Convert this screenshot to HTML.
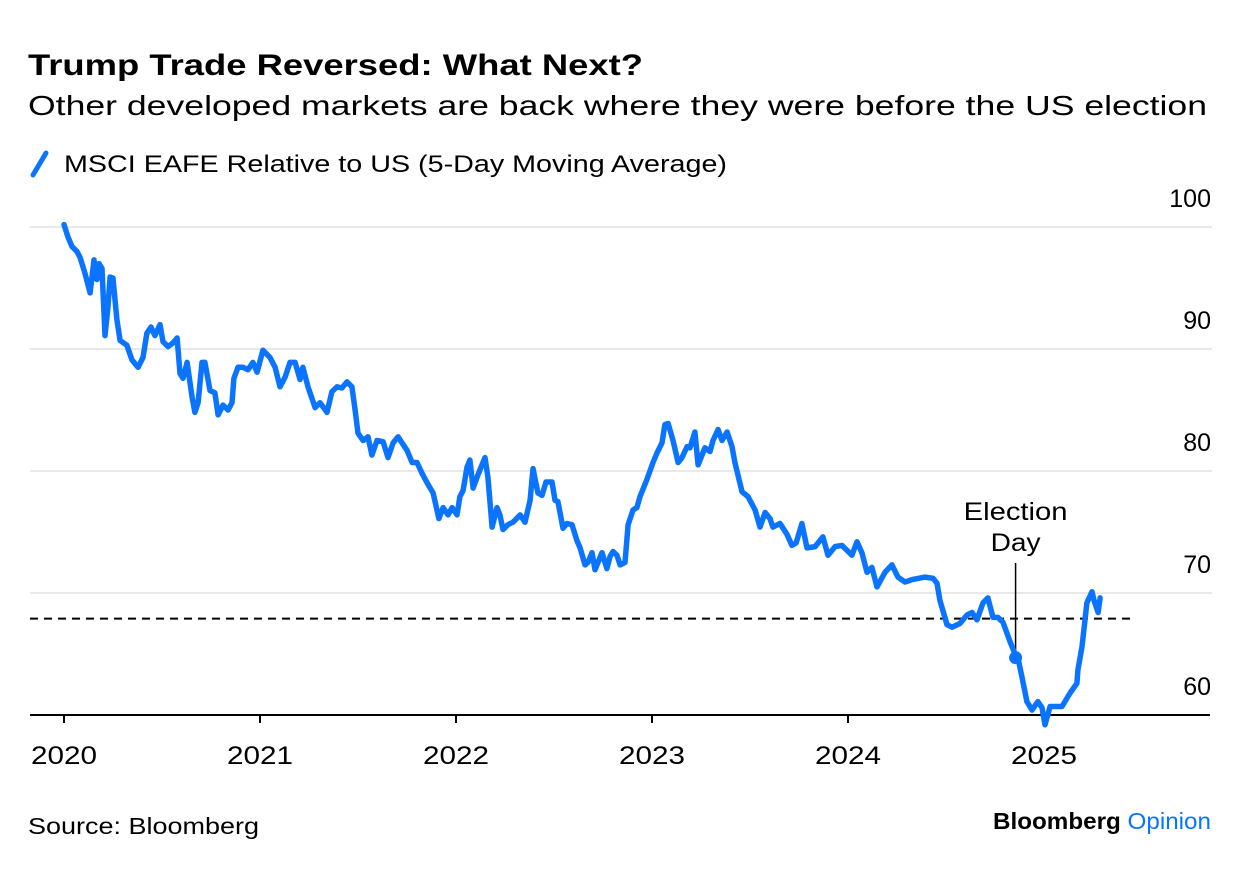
<!DOCTYPE html>
<html><head><meta charset="utf-8">
<style>
html,body{margin:0;padding:0;background:#fff;}
body{width:1240px;height:866px;overflow:hidden;font-family:"Liberation Sans",Arial,sans-serif;}
svg text{font-family:"Liberation Sans",Arial,sans-serif;}
</style></head>
<body>
<svg id="chart" width="1240" height="866" viewBox="0 0 1240 866" xmlns="http://www.w3.org/2000/svg">
<text x="28" y="75" font-size="30" font-weight="bold" fill="#000" textLength="615" lengthAdjust="spacingAndGlyphs">Trump Trade Reversed: What Next?</text>
<text x="28" y="115" font-size="28" fill="#000" textLength="1179" lengthAdjust="spacingAndGlyphs">Other developed markets are back where they were before the US election</text>
<g>
<line x1="33" y1="175" x2="46" y2="153" stroke="#0b74ff" stroke-width="5" stroke-linecap="round"/>
<text x="64" y="172" font-size="24" fill="#000" textLength="663" lengthAdjust="spacingAndGlyphs">MSCI EAFE Relative to US (5-Day Moving Average)</text>
</g>
<g id="grid"></g>
<g id="yticks"></g>
<g id="xaxis"></g>
<g id="series"></g>
<text x="28" y="834" font-size="23" fill="#000" textLength="231" lengthAdjust="spacingAndGlyphs">Source: Bloomberg</text>
<text x="993" y="829" font-size="23" font-weight="bold" fill="#000" textLength="218" lengthAdjust="spacingAndGlyphs">Bloomberg <tspan fill="#0b74ff" font-weight="normal">Opinion</tspan></text>
</svg>
<script>
const yTicks = [60, 70, 80, 90, 100];
const xTickYears = [2020, 2021, 2022, 2023, 2024, 2025];
const refLevel = 67.9;
const electionT = 4.855;
const electionValue = 64.7;
const dates = [0,.020,.041,.066,.082,.107,.133,.153,.168,.179,.194,.209,.224,.235,.250,.270,.286,.321,.347,.378,.403,.423,.444,.464,.490,.505,.531,.556,.577,.592,.607,.628,.653,.668,.684,.704,.719,.745,.770,.786,.811,.837,.857,.867,.888,.913,.939,.964,.985,1.015,1.051,1.077,1.102,1.128,1.153,1.179,1.204,1.219,1.245,1.281,1.306,1.342,1.367,1.393,1.418,1.444,1.469,1.485,1.500,1.526,1.551,1.571,1.597,1.628,1.653,1.679,1.704,1.750,1.776,1.801,1.827,1.857,1.883,1.913,1.934,1.959,
1.980,2.005,2.020,2.036,2.056,2.071,2.087,2.112,2.148,2.163,2.184,2.209,2.224,2.240,2.265,2.291,2.327,2.352,2.378,2.393,2.418,2.439,2.459,2.490,2.505,2.520,2.546,2.566,2.592,2.617,2.633,2.658,2.673,2.694,2.709,2.745,2.770,2.786,2.801,2.821,2.837,2.862,2.878,2.903,2.923,2.939,2.974,3.005,3.026,3.051,3.066,3.082,3.107,3.133,3.153,3.179,3.194,3.219,3.235,3.270,3.296,3.311,3.337,3.357,3.383,3.408,3.423,3.459,3.490,3.526,3.551,3.577,3.602,3.617,3.653,3.689,3.714,3.735,3.765,3.791,3.832,3.872,3.898,3.934,3.969,4.020,4.046,4.071,4.097,4.122,4.148,
4.189,4.224,4.255,4.291,4.327,4.357,4.393,4.434,4.454,4.469,4.505,4.531,4.571,4.607,4.633,4.658,4.689,4.714,4.740,4.765,4.791,4.827,4.857,4.867,4.888,4.913,4.939,4.969,4.990,5.005,5.031,5.066,5.092,5.133,5.168,5.173,5.194,5.219,5.245,5.255,5.276,5.286];
const values = [100.2,99.2,98.4,98.0,97.5,96.2,94.6,97.3,95.7,97.0,96.6,91.1,93.4,95.9,95.8,92.4,90.7,90.3,89.1,88.5,89.3,91.3,91.8,91.1,92.0,90.6,90.2,90.5,90.9,88.0,87.6,88.9,86.1,84.8,85.6,88.9,88.9,86.6,86.4,84.6,85.4,85.0,85.6,87.6,88.5,88.5,88.3,88.9,88.1,89.9,89.3,88.5,86.9,87.7,88.9,88.9,87.5,88.5,86.9,85.2,85.6,84.8,86.5,86.9,86.8,87.3,86.9,85.0,83.1,82.5,82.8,81.3,82.5,82.4,81.1,82.3,82.8,81.7,80.7,80.7,79.8,78.9,78.2,76.1,77.0,76.4,
77.0,76.4,77.9,78.4,80.3,80.9,78.6,79.7,81.1,79.5,75.4,77.0,76.4,75.2,75.6,75.8,76.4,75.8,77.6,80.2,78.2,78.0,79.1,79.1,77.6,77.5,75.3,75.7,75.6,74.3,73.7,72.3,72.5,73.3,71.9,73.3,72.0,73.0,73.4,73.1,72.3,72.5,75.6,76.8,77.0,77.9,79.3,80.7,81.5,82.3,83.8,83.9,82.5,80.7,81.1,82.0,81.9,83.2,80.5,81.9,81.6,82.5,83.4,82.5,83.2,82.0,80.7,78.3,77.9,76.8,75.4,76.6,76.1,75.4,75.7,74.8,73.9,74.1,75.7,73.7,73.8,74.6,73.1,73.8,73.9,73.1,74.2,73.3,71.7,72.1,70.5,71.7,
72.3,71.3,70.9,71.1,71.2,71.3,71.2,70.8,69.4,67.4,67.2,67.5,68.2,68.4,67.8,69.2,69.6,68.0,68.0,67.6,66.0,64.8,64.7,63.1,61.1,60.4,61.1,60.6,59.2,60.7,60.7,60.7,61.8,62.6,63.7,65.6,69.2,70.1,69.4,68.4,69.6,67.6];

const NS = 'http://www.w3.org/2000/svg';
const X0 = 64, PX_PER_YEAR = 196, Y0 = 715, PX_PER_UNIT = 12.2;
const xScale = t => X0 + t * PX_PER_YEAR;
const yScale = v => Y0 - (v - 60) * PX_PER_UNIT;
function mk(tag, attrs, parent) {
  const el = document.createElementNS(NS, tag);
  for (const k in attrs) el.setAttribute(k, attrs[k]);
  parent.appendChild(el);
  return el;
}
const grid = document.getElementById('grid');
const yt = document.getElementById('yticks');
yTicks.forEach(v => {
  if (v !== 60) {
    const g = mk('line', {x1: 30, x2: 1212, y1: yScale(v), y2: yScale(v), stroke: '#e9e9e9', 'stroke-width': 2}, grid);
    
    
  }
  const t = mk('text', {x: 1211, y: yScale(v) - 20, 'font-size': 25, 'text-anchor': 'end', fill: '#000'}, yt);
  t.textContent = v;
  
  
});
const xa = document.getElementById('xaxis');
const axisLine = mk('line', {x1: 30, x2: 1210, y1: Y0, y2: Y0, stroke: '#000', 'stroke-width': 2}, xa);


xTickYears.forEach(yr => {
  const x = xScale(yr - 2020);
  const tk = mk('line', {x1: x, x2: x, y1: Y0, y2: Y0 + 8, stroke: '#000', 'stroke-width': 2}, xa);
  
  
  const t = mk('text', {x: x, y: 764, 'font-size': 25, 'text-anchor': 'middle', fill: '#000', textLength: 66, lengthAdjust: 'spacingAndGlyphs'}, xa);
  t.textContent = yr;
  
  
});
const s = document.getElementById('series');
const ref = mk('line', {x1: 30, x2: 1135, y1: yScale(refLevel), y2: yScale(refLevel), stroke: '#000', 'stroke-width': 2, 'stroke-dasharray': '8 6'}, s);


const ex = xScale(electionT);
const eline = mk('line', {x1: ex, x2: ex, y1: 563, y2: yScale(electionValue), stroke: '#000', 'stroke-width': 1.5}, s);


const etxt = mk('text', {x: ex, y: 520, 'font-size': 25, 'text-anchor': 'middle', fill: '#000'}, s);


const ts1 = mk('tspan', {x: ex, dy: 0, textLength: 104, lengthAdjust: 'spacingAndGlyphs'}, etxt); ts1.textContent = 'Election';
const ts2 = mk('tspan', {x: ex, dy: 31, textLength: 50, lengthAdjust: 'spacingAndGlyphs'}, etxt); ts2.textContent = 'Day';
const d = dates.map((t, i) => (i ? 'L' : 'M') + xScale(t).toFixed(1) + ' ' + yScale(values[i]).toFixed(1)).join(' ');
const path = mk('path', {d: d, fill: 'none', stroke: '#0b74ff', 'stroke-width': 5.5, 'stroke-linejoin': 'round', 'stroke-linecap': 'round'}, s);


const dot = mk('circle', {cx: ex, cy: yScale(electionValue), r: 6.5, fill: '#0b74ff'}, s);


</script>
</body></html>
